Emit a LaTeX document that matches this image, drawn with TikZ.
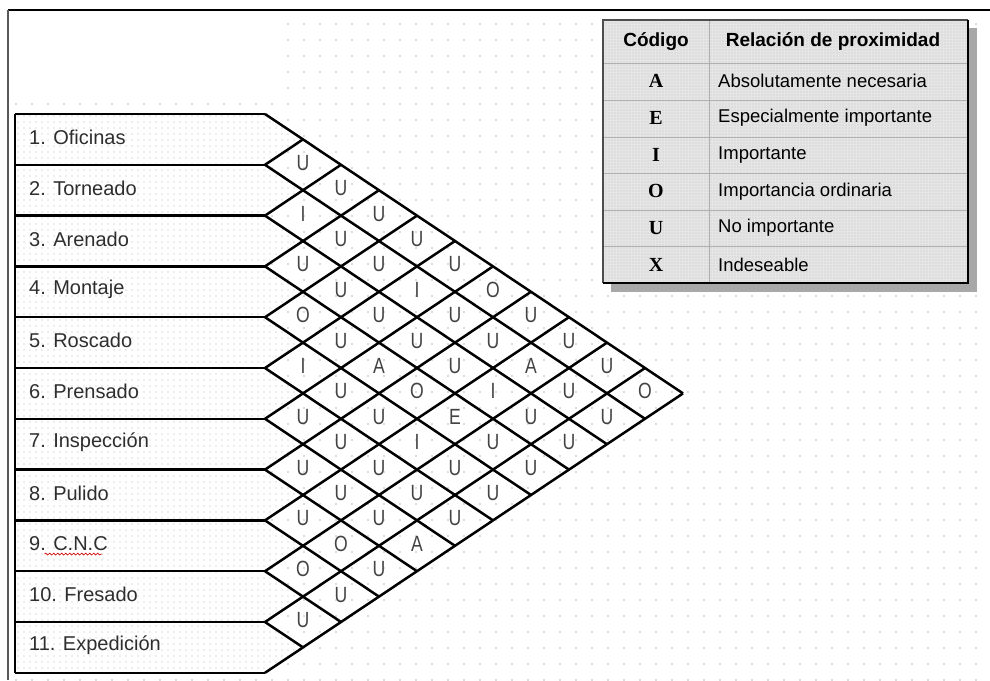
\documentclass[tikz,border=0pt]{standalone}
\usepackage{fontspec}
\setmainfont{Liberation Sans}
\newfontfamily\codefont{Liberation Serif}
\newfontfamily\narrowfont[FakeStretch=0.8]{Liberation Sans}
\usetikzlibrary{patterns.meta, decorations.pathmorphing}
\definecolor{slpink}{HTML}{2E2E2E}
\definecolor{slpletter}{HTML}{444444}
\definecolor{slpgrid}{HTML}{B0B0B0}
\definecolor{slpshade}{HTML}{A8A8A8}

\tikzset{
  slpline/.style={line width=2.5pt, black, line join=miter},
  rowlabel/.style={anchor=west, inner sep=0pt, text=slpink, font=\fontsize{20}{24}\selectfont},
  relcode/.style={inner sep=0pt, text=slpletter, font=\narrowfont\fontsize{22}{22}\selectfont},
  keycode/.style={inner sep=0pt, font=\codefont\bfseries\fontsize{20}{22}\selectfont},
  keytext/.style={anchor=west, inner sep=0pt, font=\fontsize{18.5}{22}\selectfont},
  keyhead/.style={inner sep=0pt, font=\bfseries\fontsize{19}{22}\selectfont}
}

\begin{document}
\begin{tikzpicture}[x=1pt, y=-1pt]
    \useasboundingbox (0,0) rectangle (990,680);

    % Sheet and dotted grid
    \fill[white] (0,0) rectangle (990,680);
    \fill[pattern={Dots[distance=16pt, radius=0.9pt]}, pattern color=gray!55] (12,100) rectangle (990,680);
    \fill[pattern={Dots[distance=16pt, radius=0.9pt]}, pattern color=gray!55] (280,12) rectangle (990,100);
    \draw[line width=2pt] (990,10) -- (8,10);
    \draw[line width=2pt, gray!70!black] (8,10) -- (8,680);

    % Departments
    \foreach \name [count=\i] in {1. Oficinas, 2. Torneado, 3. Arenado, 4. Montaje, 5. Roscado, 6. Prensado, 7. Inspección, 8. Pulido, 9. C.N.C, 10. Fresado, 11. Expedición} {
        \pgfmathsetmacro\rtop{114+50.8*(\i-1)}
        \pgfmathsetmacro\rbot{114+50.8*\i}
        \pgfmathsetmacro\rmid{114+50.8*(\i-0.5)}
        \fill[white] (15,\rtop) -- (265,\rtop) -- (303,\rmid) -- (265,\rbot) -- (15,\rbot) -- cycle;
        \fill[pattern={Dots[distance=6pt, radius=0.65pt]}, pattern color=gray!60] (15,\rtop) -- (265,\rtop) -- (303,\rmid) -- (265,\rbot) -- (15,\rbot) -- cycle;
        \node[rowlabel] (row-\i) at (29,\rmid-2) {\name};
    }

    % Row borders
    \draw[slpline] (15,114) -- (15,673);
    \foreach \k in {0,...,11} {
        \pgfmathsetmacro\ky{114+50.8*\k}
        \draw[slpline] (15,\ky) -- (265,\ky);
        \draw[slpline] (265,\ky) -- ++({38*(11-\k)},{25.4*(11-\k)});
        \draw[slpline] (265,\ky) -- ++({38*\k},{-25.4*\k});
    }

    % Spelling mark under C.N.C
    \draw[red!80!black, line width=0.6pt, decorate, decoration={snake, amplitude=1pt, segment length=4pt}] ([xshift=-2pt, yshift=-3pt]row-9.south) ++(-22,0) -- ++(58,0);

    % Closeness ratings
    \foreach \i/\codes in {
        1/{U,U,U,U,U,O,U,U,U,O},
        2/{I,U,U,I,U,U,A,U,U},
        3/{U,U,U,U,U,I,U,U},
        4/{O,U,A,O,E,U,U},
        5/{I,U,U,I,U,U},
        6/{U,U,U,U,U},
        7/{U,U,U,A},
        8/{U,O,U},
        9/{O,U},
        10/{U}} {
        \foreach \c [count=\n] in \codes {
            \node[relcode] (rel-\i-\n) at ({265+38*\n},{112+25.4*(2*\i+\n-1)}) {\c};
        }
    }

    % Legend
    \fill[slpshade] (611,28) rectangle (977,292);
    \fill[gray!20] (603,20) rectangle (968,283);
    \fill[pattern={Dots[distance=3pt, radius=0.6pt]}, pattern color=gray!45] (603,20) rectangle (968,283);
    \foreach \ly in {63,100,137,173,210,246} {
        \draw[slpgrid, line width=1pt] (604,\ly) -- (967,\ly);
    }
    \draw[slpgrid, line width=1pt] (709,21) -- (709,282);
    \draw[line width=1.5pt, gray!60!black] (603,283) -- (603,20) -- (968,20);
    \draw[line width=2.5pt] (603,283) -- (968,283) -- (968,20);

    \node[keyhead] (head-code) at (656,42) {Código};
    \node[keyhead] (head-rel) at (833,42) {Relación de proximidad};
    \foreach \c/\txt [count=\n] in {A/Absolutamente necesaria, E/Especialmente importante, I/Importante, O/Importancia ordinaria, U/No importante, X/Indeseable} {
        \pgfmathsetmacro\ly{63+36.67*(\n-0.5)}
        \node[keycode] (code-\c) at (656,\ly) {\c};
        \node[keytext] (text-\c) at (718,\ly) {\txt};
    }
\end{tikzpicture}
\end{document}
